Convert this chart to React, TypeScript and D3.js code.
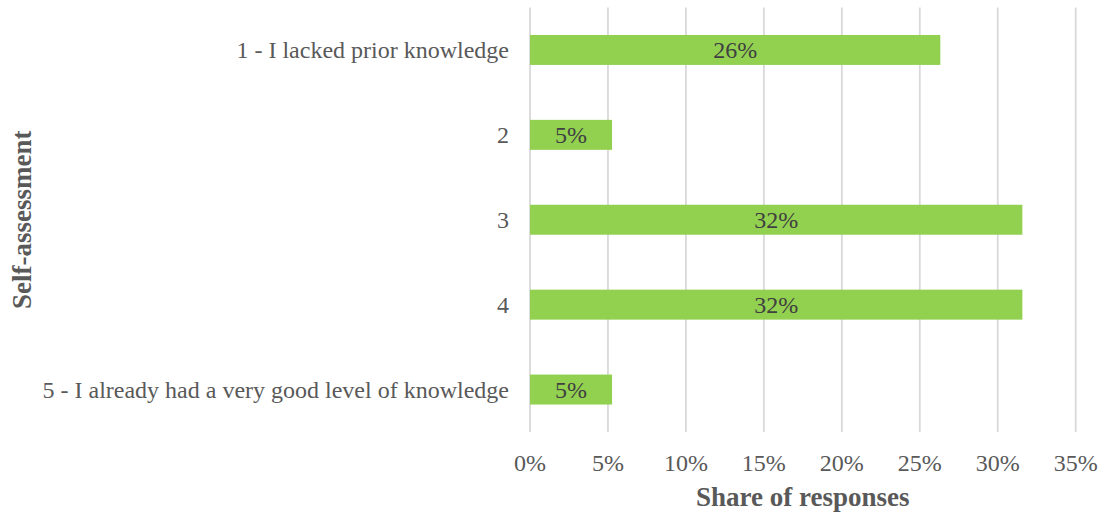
import React from "react";
import * as d3 from "d3";

const categories = [
  "1 - I lacked prior knowledge",
  "2",
  "3",
  "4",
  "5 - I already had a very good level of knowledge",
];
const shares = [5 / 19, 1 / 19, 6 / 19, 6 / 19, 1 / 19];
const xTicks = [0, 0.05, 0.1, 0.15, 0.2, 0.25, 0.3, 0.35];

export default function App() {
  const W = 1104, H = 515;
  const left = 530, right = 1075.7, top = 7.5, bottom = 432;
  const x = d3.scaleLinear().domain([0, 0.35]).range([left, right]);
  const y = d3.scaleBand<string>().domain(categories).range([top, bottom]).paddingInner(0.647).paddingOuter(0.3235);
  const fmt = d3.format(".0%");
  const font = "'Liberation Serif', 'Times New Roman', serif";
  return (
    <svg width={W} height={H} style={{ position: "absolute", left: 0, top: 0 }} fontFamily={font}>
      <rect width={W} height={H} fill="#fff" />
      {xTicks.map((t) => (
        <line key={t} x1={x(t)} x2={x(t)} y1={top} y2={bottom} stroke="#d9d9d9" strokeWidth={1.8} />
      ))}
      {categories.map((c, i) => (
        <g key={c}>
          <rect x={x(0)} y={y(c)!} width={x(shares[i]) - x(0)} height={y.bandwidth()} fill="#92d050" />
          <text x={(x(0) + x(shares[i])) / 2} y={y(c)! + y.bandwidth() / 2} dy="0.35em" textAnchor="middle" fontSize={24} fill="#404040">
            {fmt(shares[i])}
          </text>
          <text x={509} y={y(c)! + y.bandwidth() / 2} dy="0.35em" textAnchor="end" fontSize={24} fill="#595959">
            {c}
          </text>
        </g>
      ))}
      {xTicks.map((t) => (
        <text key={t} x={x(t)} y={463} dy="0.35em" textAnchor="middle" fontSize={24} fill="#595959">
          {fmt(t)}
        </text>
      ))}
      <text x={(left + right) / 2} y={497} dy="0.35em" textAnchor="middle" fontSize={27} fontWeight="bold" fill="#595959">
        Share of responses
      </text>
      <text transform={`translate(22,${(top + bottom) / 2}) rotate(-90)`} dy="0.35em" textAnchor="middle" fontSize={27} fontWeight="bold" fill="#595959">
        Self-assessment
      </text>
    </svg>
  );
}
